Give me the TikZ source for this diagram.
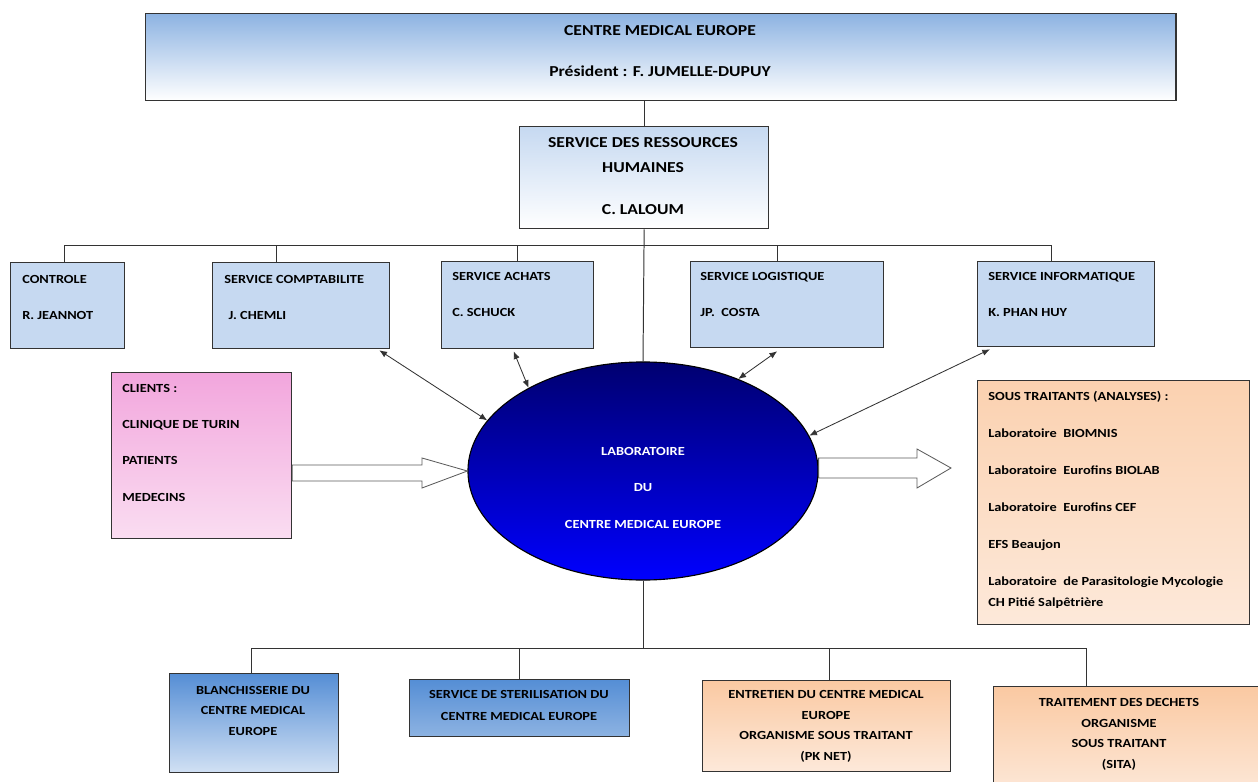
\documentclass[tikz,border=0pt]{standalone}
\usepackage{fontspec}
\setmainfont{Carlito}[FakeStretch=1.16]
\usetikzlibrary{arrows.meta,positioning,calc,shapes.geometric}
\definecolor{cmeblue}{HTML}{8DB3E2}
\definecolor{cmepale}{HTML}{C6D9F1}
\definecolor{cmemid}{HTML}{558ED5}
\definecolor{cmepink}{HTML}{F2A6DD}
\definecolor{cmepinklt}{HTML}{FADDF1}
\definecolor{cmepeach}{HTML}{FAC9A2}
\definecolor{cmepeachlt}{HTML}{FDE9DA}
\definecolor{cmenavy}{HTML}{000070}
\definecolor{cmeline}{HTML}{333333}

\begin{document}
\begin{tikzpicture}[x=0.025cm, y=-0.025cm,
  >={Latex[length=5.5pt,width=4.5pt]},
  box/.style={draw=cmeline, line width=.9pt, anchor=north west, inner sep=0},
  svc/.style={box, fill=cmepale},
  txt/.style={font=\fontsize{8.8}{25.6}\selectfont\bfseries, align=left, anchor=north west, inner sep=0},
  ctxt/.style={font=\fontsize{8.8}{14.7}\selectfont\bfseries, align=center, anchor=north, inner sep=0},
  tree/.style={draw=cmeline, line width=.7pt},
  dbl/.style={<->, draw=cmeline, line width=.6pt},
  bigarrow/.style={draw=cmeline!80, fill=white, line width=.6pt}
]
\clip (0,0) rectangle (1258,782);

% direction
\node[box, top color=cmeblue, bottom color=white, minimum width=25.75cm, minimum height=2.175cm] (top) at (145,13) {};
\node[ctxt, font=\fontsize{10.8}{29.2}\selectfont\bfseries] (top-t) at (660,25)
 {CENTRE MEDICAL EUROPE\\Président : F. JUMELLE-DUPUY};

\node[box, top color=cmepale, bottom color=white, minimum width=6.225cm, minimum height=2.55cm] (hr) at (519,126) {};
\node[ctxt, font=\fontsize{10.8}{17.8}\selectfont\bfseries] (hr-t) at (643,137)
 {SERVICE DES RESSOURCES\\HUMAINES\\[12.1pt]C. LALOUM};

% services
\node[svc, minimum width=2.85cm, minimum height=2.15cm] (ctrl) at (10,262) {};
\node[txt] (ctrl-t) at (22,275) {CONTROLE\\R. JEANNOT};
\node[svc, minimum width=4.425cm, minimum height=2.15cm] (compta) at (212,262) {};
\node[txt] (compta-t) at (224,275) {SERVICE COMPTABILITE\\\hspace*{3pt}J. CHEMLI};
\node[svc, minimum width=3.8cm, minimum height=2.175cm] (achats) at (441,261) {};
\node[txt] (achats-t) at (452,272) {SERVICE ACHATS\\C. SCHUCK};
\node[svc, minimum width=4.825cm, minimum height=2.15cm] (logi) at (690,261) {};
\node[txt] (logi-t) at (700,272) {SERVICE LOGISTIQUE\\JP.\ \ COSTA};
\node[svc, minimum width=4.425cm, minimum height=2.125cm] (info) at (977,261) {};
\node[txt] (info-t) at (988,272) {SERVICE INFORMATIQUE\\K. PHAN HUY};

% laboratoire
\node[ellipse, draw=black, line width=.8pt, top color=cmenavy, bottom color=blue,
  minimum width=8.75cm, minimum height=5.45cm, inner sep=0] (lab) at (643,471) {};
\node[ctxt, font=\fontsize{8.8}{26}\selectfont\bfseries, text=white] (lab-t) at (643,447)
 {LABORATOIRE\\DU\\CENTRE MEDICAL EUROPE};

\node[box, top color=cmepink, bottom color=cmepinklt, minimum width=4.5cm, minimum height=4.15cm] (clients) at (111,372) {};
\node[txt, font=\fontsize{8.8}{25.8}\selectfont\bfseries] (clients-t) at (122,384)
 {CLIENTS :\\CLINIQUE DE TURIN\\PATIENTS\\MEDECINS};

\node[box, top color=cmepeach!85, bottom color=cmepeachlt, minimum width=6.8cm, minimum height=6.1cm] (sous) at (977,380) {};
\node[txt, font=\fontsize{8.8}{26.3}\selectfont\bfseries] (sous-t) at (988,391)
 {SOUS TRAITANTS (ANALYSES) :\\Laboratoire\ \ BIOMNIS\\Laboratoire\ \ Eurofins BIOLAB\\Laboratoire\ \ Eurofins CEF\\EFS Beaujon\\Laboratoire\ \ de Parasitologie Mycologie\\[-11.4pt]CH Pitié Salpêtrière};

% prestataires
\node[box, top color=cmemid, bottom color=cmepale!80, minimum width=4.225cm, minimum height=2.475cm] (blanch) at (169,673) {};
\node[ctxt, font=\fontsize{8.8}{14.6}\selectfont\bfseries] (blanch-t) at (253,686)
 {BLANCHISSERIE DU\\CENTRE MEDICAL\\EUROPE};
\node[box, top color=cmemid, bottom color=cmeblue, minimum width=5.5cm, minimum height=1.425cm] (steril) at (409,679) {};
\node[ctxt, font=\fontsize{8.8}{15.6}\selectfont\bfseries] (steril-t) at (519,690)
 {SERVICE DE STERILISATION DU\\CENTRE MEDICAL EUROPE};
\node[box, top color=cmepeach, bottom color=cmepeachlt, minimum width=6.2cm, minimum height=2.275cm] (entre) at (702,680) {};
\node[ctxt] (entre-t) at (826,690)
 {ENTRETIEN DU CENTRE MEDICAL\\EUROPE\\ORGANISME SOUS TRAITANT\\(PK NET)};
\node[box, top color=cmepeach, bottom color=cmepeachlt, minimum width=7cm, minimum height=2.75cm] (trait) at (993,686) {};
\node[ctxt] (trait-t) at (1119,698)
 {TRAITEMENT DES DECHETS\\ORGANISME\\SOUS TRAITANT\\(SITA)};

% organigramme
\coordinate (busU) at (643,245);
\coordinate (busL) at (643,648);
\draw[tree] (hr.north) -- (hr.north |- top.south);
\draw[tree] (hr.south) -- (lab.north);
\draw[tree] ($(ctrl.north)+(-3,0)$) |- (busU);
\draw[tree] ($(compta.north)+(-24.5,0)$) |- (busU);
\draw[tree] (achats.north) |- (busU);
\draw[tree] ($(logi.north)+(-9.5,0)$) |- (busU);
\draw[tree] ($(info.north)+(-14.5,0)$) |- (busU);
\draw[tree] (lab.south) -- (busL);
\draw[tree] ($(blanch.north)+(-3,0)$) |- (busL);
\draw[tree] (steril.north) |- (busL);
\draw[tree] ($(entre.north)+(3,0)$) |- (busL);
\draw[tree] ($(trait.north west)+(93,0)$) |- (busL);

% echanges
\draw[dbl] ($(compta.south east)+(-11,1)$) -- (lab.162);
\draw[dbl] ($(achats.south)+(-4,2)$) -- (lab.144);
\draw[dbl] ($(logi.south)+(-10,3)$) -- (lab.44);
\draw[dbl] ($(info.south west)+(13,2)$) -- (lab.12);

% flux clients / sous traitants
\coordinate (outtip) at (951,468);
\draw[bigarrow] (clients.east |- 0,465) -- (422,465) -- (422,458) -- (lab.west)
  -- (422,488) -- (422,481) -- (clients.east |- 0,481) -- cycle;
\draw[bigarrow] (lab.east |- 0,458) -- (917,458) -- (917,449) -- (outtip)
  -- (917,488) -- (917,478) -- (lab.east |- 0,478) -- cycle;
\end{tikzpicture}
\end{document}
